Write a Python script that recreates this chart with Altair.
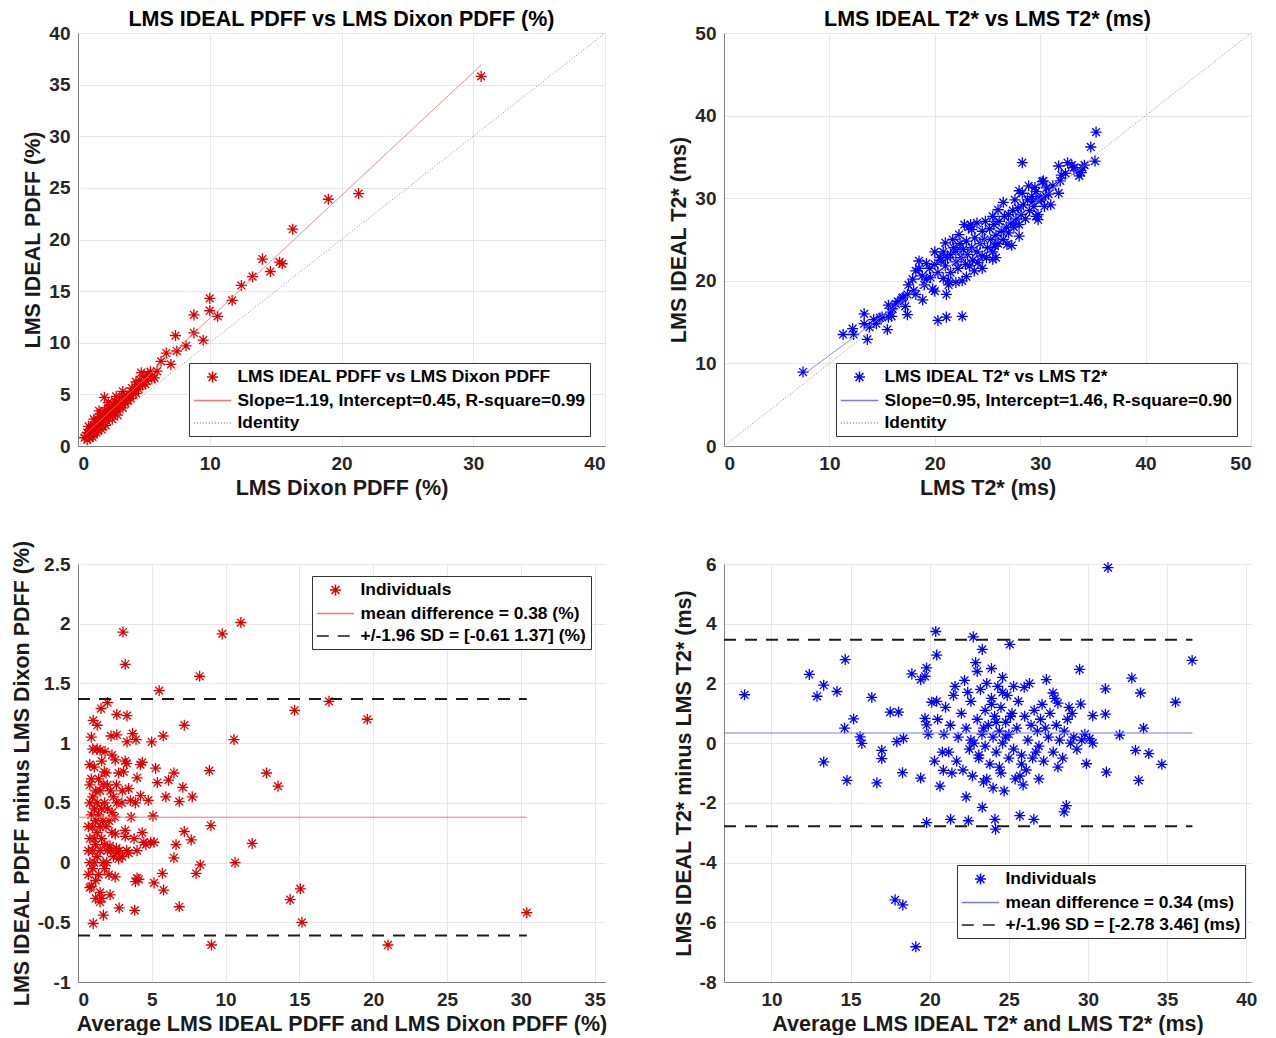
import altair as alt
import pandas as pd

FONT = "Liberation Sans"

# ---------------- top-left: LMS IDEAL PDFF vs LMS Dixon PDFF ----------------
tl_x = [30.6, 21.3, 19.0, 16.3, 14.0, 15.3, 15.5, 14.6, 13.25, 12.4, 11.7, 10.0, 10.0, 10.6,
        8.8, 8.8, 7.4, 9.5, 8.2, 7.5, 6.7, 7.05, 6.3, 6.0, 5.8, 4.8, 5.2, 4.5, 4.05, 3.8,
        3.3, 2.8, 2.0, 2.3, 3.0, 3.5, 2.5, 1.8, 1.5, 1.15, 0.9, 0.5,
        0.6, 0.7, 0.8, 0.9, 1.0, 1.0, 1.1, 1.2, 1.2, 1.3, 1.3, 1.4, 1.5, 1.5, 1.6, 1.6,
        1.7, 1.7, 1.8, 1.9, 1.9, 2.0, 2.0, 2.1, 2.2, 2.2, 2.3, 2.4, 2.4, 2.5, 2.6, 2.7,
        2.7, 2.8, 2.9, 3.0, 3.1, 3.2, 3.3, 3.4, 3.5, 3.6, 3.7, 3.8, 3.9, 4.0, 4.1, 4.2,
        4.3, 4.4, 4.6, 4.7, 4.9, 5.0, 5.3, 5.5, 5.6, 0.7, 0.9, 1.1, 1.4, 1.8, 2.1, 2.6,
        3.0, 2.3, 1.2, 0.8, 1.6, 2.9, 3.4, 4.4, 5.1]
tl_y = [35.8, 24.45, 23.9, 21.0, 18.1, 17.8, 17.65, 16.9, 16.4, 15.55, 14.1, 14.3, 13.1, 12.55,
        12.7, 10.95, 10.7, 10.25, 9.7, 9.2, 9.0, 7.9, 8.2, 7.25, 6.6, 7.1, 6.3, 5.95, 5.3, 4.8,
        4.7, 4.35, 4.7, 3.7, 3.9, 4.35, 3.05, 2.75, 2.1, 1.8, 1.1, 0.8,
        1.0, 1.3, 0.9, 1.5, 1.2, 1.7, 1.4, 2.0, 1.1, 1.6, 2.3, 1.9, 1.5, 2.6, 2.2, 1.8,
        2.5, 3.1, 2.0, 2.4, 2.9, 2.2, 3.4, 2.7, 3.0, 2.4, 3.3, 2.8, 3.9, 3.5, 3.0, 3.6,
        4.0, 3.3, 3.8, 3.4, 4.2, 3.8, 4.1, 3.7, 4.6, 4.1, 4.8, 4.4, 5.0, 4.6, 5.6, 5.0,
        5.4, 6.2, 5.5, 6.4, 5.9, 6.8, 6.9, 7.2, 6.5, 0.6, 0.8, 0.9, 1.3, 1.6, 2.0, 2.6,
        3.0, 4.2, 2.6, 1.9, 3.4, 4.8, 5.3, 5.1, 6.0]
tl_fit_x = [0.5, 30.6]
tl_fit_y = [1.05, 36.9]
tl_id = [0, 40]
tl_labels = ["LMS IDEAL PDFF vs LMS Dixon PDFF",
             "Slope=1.19, Intercept=0.45, R-square=0.99", "Identity"]

# ---------------- top-right: LMS IDEAL T2* vs LMS T2* ----------------
tr_x = [7.5, 11.3, 12.2, 12.3, 13.3, 13.6, 13.3, 14.45, 14.8, 15.5, 15.6, 15.6, 15.9, 16.9,
        17.2, 17.4, 17.4, 18.2, 18.85, 17.9, 18.5, 18.2, 19.2, 19.6, 20.0, 20.3, 21.1, 22.6,
        21.1, 21.3, 22.6, 23.75, 21.0, 20.5, 23.4, 25.5, 25.7, 26.85, 28.0, 28.3, 28.3, 29.8,
        29.6, 30.3, 31.75, 31.9, 31.75, 32.6, 33.2, 33.7, 33.9, 34.0, 35.2, 34.8, 35.3, 29.3,
        30.1, 30.6,
        19.5, 20.0, 20.3, 20.6, 20.8, 21.0, 21.2, 21.5, 21.5, 21.8, 22.0, 22.0, 22.2, 22.4,
        22.5, 22.7, 22.9, 23.0, 23.1, 23.3, 23.5, 23.6, 23.8, 24.0, 24.1, 24.3, 24.5, 24.5,
        24.7, 24.9, 25.0, 25.2, 25.3, 25.5, 25.6, 25.8, 26.0, 26.1, 26.3, 26.5, 26.6, 26.8,
        27.0, 27.0, 27.2, 27.4, 27.5, 27.7, 27.9, 28.0, 28.2, 28.4, 28.6, 28.8, 29.0, 29.2,
        29.4, 29.6, 30.0, 30.4, 22.8, 23.2, 24.0, 24.8, 25.5, 26.0, 21.3, 22.0, 23.0, 24.5,
        25.8, 27.3, 19.0, 19.8, 20.8, 18.8, 18.5, 19.2, 17.5, 18.0, 16.0, 16.5, 17.0, 15.0,
        14.2, 15.8, 13.8, 16.3, 20.0, 21.7, 22.3, 23.5, 26.5, 27.6, 28.0, 28.9, 29.5, 30.2,
        30.8, 31.2, 32.0, 33.0, 32.4, 33.5, 34.2, 29.8, 30.5, 31.0]
tr_y = [8.95, 13.5, 14.2, 13.5, 16.0, 12.9, 14.8, 14.8, 15.5, 14.1, 17.05, 15.6, 15.7, 17.9,
        16.9, 15.9, 18.35, 18.35, 17.7, 20.2, 22.4, 21.2, 20.2, 20.4, 18.75, 15.2, 15.6, 15.7,
        18.35, 20.0, 20.0, 21.2, 24.6, 22.8, 26.8, 22.6, 24.2, 24.4, 25.4, 34.3, 30.6, 27.4,
        27.8, 32.1, 30.6, 32.1, 33.9, 34.3, 33.7, 32.7, 33.1, 33.7, 34.5, 36.2, 38.0, 29.6,
        29.8, 31.25,
        21.5, 22.0, 21.0, 22.5, 23.5, 21.8, 22.8, 23.2, 21.0, 24.0, 22.3, 23.6, 21.5, 24.5,
        22.8, 23.8, 22.0, 24.8, 23.2, 21.8, 24.0, 22.5, 25.2, 23.5, 22.2, 24.5, 26.0, 23.0,
        25.0, 22.8, 24.0, 26.3, 25.0, 23.5, 26.8, 25.5, 24.5, 27.2, 26.0, 25.0, 27.8, 26.5,
        28.0, 25.8, 27.0, 28.5, 26.5, 27.5, 28.8, 26.8, 28.0, 29.2, 27.5, 29.8, 28.5, 30.2,
        29.0, 30.8, 30.0, 29.0, 26.8, 26.5, 27.0, 27.2, 27.8, 28.6, 19.5, 19.8, 20.5, 21.5,
        22.8, 24.3, 19.5, 19.0, 20.3, 20.6, 21.5, 22.1, 19.5, 18.8, 16.6, 17.5, 18.0, 15.6,
        15.3, 16.2, 14.4, 17.2, 23.5, 25.0, 25.6, 26.2, 29.5, 29.8, 30.9, 31.5, 31.3, 32.0,
        30.5, 31.5, 32.8, 34.0, 33.0, 33.3, 34.0, 28.0, 30.3, 29.2]
tr_fit_x = [7.5, 35.3]
tr_fit_y = [8.6, 35.0]
tr_id = [0, 50]
tr_labels = ["LMS IDEAL T2* vs LMS T2*",
             "Slope=0.95, Intercept=1.46, R-square=0.90", "Identity"]

# ---------------- bottom-left: Bland-Altman PDFF ----------------
bl_x = [3.05, 3.2, 9.77, 11.03, 8.24, 5.5, 17.0, 14.67, 19.6, 7.2, 10.57, 5.77, 8.9, 12.77,
        13.55, 9.0, 11.8, 10.64, 14.37, 15.06, 15.17, 9.04, 21.0, 30.4, 6.86, 8.28, 8.0, 6.5,
        6.64, 7.67, 7.2, 7.74, 7.1, 6.5, 6.86, 6.13, 5.95, 5.26, 5.38, 5.08, 4.92, 5.15, 4.46,
        4.35, 4.76, 3.89, 4.0, 4.23, 3.43, 3.2, 2.75, 3.3, 5.72, 5.8, 5.15, 4.0, 3.89, 4.12,
        3.84, 2.79, 2.52, 2.17, 1.72, 1.03, 1.49, 0.8, 1.03, 1.56, 2.0, 2.63, 3.32, 2.24, 2.63,
        3.7, 3.93, 4.99, 3.32, 1.49, 1.83, 0.8, 2.52, 1.78, 3.09, 4.35, 2.63, 2.3, 2.97, 3.55,
        4.23, 2.52, 3.2, 2.17, 2.63, 3.43, 2.75, 1.95, 3.2,
        0.7, 0.7, 0.7, 0.8, 0.8, 0.8, 0.9, 0.9, 0.9, 1.0, 1.0, 1.0, 1.0, 1.1, 1.1, 1.1, 1.1,
        1.2, 1.2, 1.2, 1.2, 1.3, 1.3, 1.3, 1.3, 1.4, 1.4, 1.4, 1.5, 1.5, 1.5, 1.5, 1.6, 1.6,
        1.6, 1.7, 1.7, 1.7, 1.8, 1.8, 1.8, 1.9, 1.9, 2.0, 2.0, 2.1, 2.1, 2.2, 2.2, 2.3, 2.4,
        2.5, 2.6, 2.8, 3.0, 3.3, 3.6, 4.0, 1.0, 0.9, 1.2, 1.6, 0.8, 2.3, 2.6, 2.0, 3.8, 4.6,
        3.0, 2.4, 1.3]
bl_y = [1.93, 1.66, 1.915, 2.01, 1.56, 1.44, 1.35, 1.275, 1.2, 1.15, 1.03, 1.06, 0.77, 0.75,
        0.64, 0.31, 0.16, 0.0, -0.31, -0.22, -0.5, -0.69, -0.69, -0.42, -0.37, -0.02, -0.09,
        0.04, 0.15, 0.19, 0.26, 0.55, 0.63, 0.75, 0.51, 0.69, 0.55, 0.79, 0.67, 0.39, 0.17,
        0.17, 0.17, 0.25, 0.52, 0.5, 0.71, 0.82, 0.62, 0.85, 0.75, 0.83, -0.09, -0.23, -0.17,
        -0.13, -0.16, -0.14, -0.4, -0.38, -0.12, -0.27, -0.44, -0.51, -0.33, -0.21, 1.19, 1.29,
        1.34, 1.24, 1.23, 1.06, 1.07, 1.08, 1.03, 1.01, 1.01, 0.94, 0.93, 0.82, 0.86, 0.76,
        0.76, 0.84, 0.5, 0.42, 0.5, 0.52, 0.56, 0.24, 0.27, 0.14, 0.08, 0.08, 0.03, 0.0, 0.22,
        0.1, 0.3, -0.1, 0.5, 0.0, 0.2, 0.4, -0.2, 0.7, 0.1, 0.3, 0.55, -0.05, 0.2, 0.45, 0.0,
        0.8, 0.6, 0.15, -0.15, 0.35, 0.05, 0.5, 0.25, 0.95, 0.7, -0.1, 0.4, 0.1, 0.3, 0.6,
        -0.25, 0.2, 0.45, 0.85, 0.0, 0.35, 0.65, 0.15, 0.5, -0.05, 0.3, 0.75, 0.1, 0.45, 0.35,
        -0.1, 0.6, 0.1, 0.25, 0.05, 0.38, 0.12, 0.1, 0.05, 0.1, 0.38, 0.1, 0.95, 1.05, -0.3,
        -0.3, 0.65, 0.9, 0.65, 0.65, 0.2, 0.15, 0.6, 0.55, 1.15]
bl_mean = 0.38
bl_lo, bl_hi = -0.61, 1.37
bl_line_x = [0, 30.4]
bl_labels = ["Individuals", "mean difference = 0.38 (%)", "+/-1.96 SD = [-0.61 1.37] (%)"]

# ---------------- bottom-right: Bland-Altman T2* ----------------
br_x = [8.3, 31.26, 20.38, 22.75, 23.32, 25.06, 14.66, 36.58, 12.39, 13.3, 12.88, 14.14, 16.34,
        18.87, 19.43, 19.7, 19.8, 20.44, 17.5, 18.03, 20.13, 20.44, 19.7, 19.8, 15.19, 14.62,
        15.6, 15.71, 17.92, 18.34, 16.97, 16.97, 13.3, 14.77, 16.66, 18.28, 19.43, 20.65,
        20.86, 19.8, 21.32, 22.44, 23.32, 24.12, 24.16, 25.69, 26.58, 28.49, 28.63, 31.16,
        33.2, 34.66, 33.84, 33.0, 29.9, 32.0, 33.51, 35.53, 33.32, 32.77, 31.1, 31.1, 30.3,
        29.54, 29.47, 27.37, 25.97, 27.79, 28.1, 17.81, 18.3, 19.12,
        20.5, 20.9, 21.0, 21.2, 21.3, 21.5, 21.7, 21.8, 22.0, 22.1, 22.2, 22.3, 22.5, 22.6,
        22.7, 22.8, 23.0, 23.0, 23.1, 23.2, 23.3, 23.4, 23.5, 23.5, 23.6, 23.7, 23.8, 23.9,
        24.0, 24.0, 24.1, 24.2, 24.3, 24.4, 24.5, 24.5, 24.6, 24.7, 24.8, 24.9, 25.0, 25.0,
        25.2, 25.3, 25.4, 25.5, 25.6, 25.8, 26.0, 26.1, 26.2, 26.4, 26.5, 26.6, 26.8, 26.9,
        27.0, 27.2, 27.3, 27.5, 27.6, 27.8, 28.0, 28.2, 28.4, 28.5, 28.7, 28.9, 29.1, 29.3,
        29.6, 29.8, 30.1, 30.3, 29.0, 27.9, 26.3, 25.7, 22.9, 22.4, 23.9, 24.6, 25.3, 21.6,
        20.8, 19.9, 20.3, 21.4, 26.7, 28.1, 27.1, 28.8, 26.9, 25.9, 22.3, 23.6,
        23.4, 24.2, 24.8, 23.9, 24.4, 25.1, 22.6, 23.1, 25.8, 24.6]
br_y = [1.62, 5.88, 3.74, 3.56, 3.14, 3.31, 2.8, 2.77, 2.3, 1.94, 1.57, 1.73, 1.53, 2.32, 2.13,
        2.24, 2.52, 2.95, 1.04, 1.04, 1.37, 1.4, 0.83, 0.61, 0.81, 0.5, 0.21, -0.01, 0.05, 0.16,
        -0.24, -0.52, -0.63, -1.25, -1.33, -0.99, -1.17, -1.44, -0.91, -2.66, -2.55, -2.6,
        -2.15, -2.55, -2.88, -2.43, -2.55, -2.3, -2.09, -0.97, -1.25, -0.71, -0.35, -0.24,
        -0.69, 0.27, 0.5, 1.37, 1.68, 2.18, 1.82, 0.97, 0.92, 1.31, 2.47, 2.13, 1.87, 1.68,
        1.34, -5.25, -5.42, -6.82,
        0.8, 0.3, 1.2, -0.3, 0.6, 1.6, -0.6, 0.2, 1.0, -0.9, 2.1, 0.5, -0.2, 1.4, -1.1, 0.0,
        0.8, 2.4, -0.5, 1.8, 0.3, -1.3, 1.1, -0.1, 2.0, 0.6, -0.7, 1.5, 0.2, -1.5, 0.9, -0.3,
        1.9, 0.4, -1.0, 1.2, 0.0, -1.6, 0.7, 1.6, -0.5, 0.3, 1.0, -0.2, -1.2, 0.5, 1.4, -0.4,
        0.9, -0.9, 0.1, 0.6, -0.5, 1.1, 0.4, -0.1, 0.8, -0.6, 0.5, 0.2, 1.0, -0.3, 0.6, 0.1,
        -0.5, 0.4, 0.8, 0.0, 0.2, -0.2, 0.1, 0.3, 0.15, 0.0, 1.0, 1.5, 2.0, -1.1, 2.7, 1.7,
        2.5, 2.2, 1.9, 1.9, -0.3, 0.3, -0.6, -1.0, -0.3, -0.8, 1.3, 1.2, -1.2, -1.4, -1.8, -1.2,
        0.5, 0.7, 0.2, 1.3, -0.8, 0.9, 0.1, -0.4, -0.7, 1.7]
br_mean = 0.34
br_lo, br_hi = -2.78, 3.46
br_line_x = [7, 36.6]
br_labels = ["Individuals", "mean difference = 0.34 (ms)", "+/-1.96 SD = [-2.78 3.46] (ms)"]

RED = "#e00000"
RED_LT = "#f07878"
BLUE = "#0000ff"
BLUE_LT = "#7878ff"
GRAY = "#8c8c8c"
BLACK = "#1a1a1a"

AST = "M0,-0.65L0,0.65M-0.65,0L0.65,0M-0.46,-0.46L0.46,0.46M-0.46,0.46L0.46,-0.46"
LINE = "M-2.2,0L2.2,0"
LBL = "replace(datum.label, '\u2212', '-')"


def panel(px, py, labels, colors, dashes, l1, l2, l2w, xdom, ydom, xt, yt,
          xtitle, ytitle, title, lx, ly, w, h):
    pts = pd.DataFrame({"x": px, "y": py, "s": labels[0]})
    leg = alt.Legend(orient="none", legendX=lx, legendY=ly, title=None)
    color = alt.Color("s:N", scale=alt.Scale(domain=labels, range=colors), legend=leg, title=None)
    shape = alt.Shape("s:N", scale=alt.Scale(domain=labels, range=[AST, LINE, LINE]),
                      legend=leg, title=None)
    dash = alt.StrokeDash("s:N", scale=alt.Scale(domain=labels, range=dashes),
                          legend=leg, title=None)
    X = alt.X("x:Q", scale=alt.Scale(domain=xdom, nice=False, zero=False),
              axis=alt.Axis(values=xt, title=xtitle, format=".6~g", labelExpr=LBL))
    Y = alt.Y("y:Q", scale=alt.Scale(domain=ydom, nice=False, zero=False),
              axis=alt.Axis(values=yt, title=ytitle, format=".6~g", labelExpr=LBL))
    points = alt.Chart(pts).mark_point(filled=False, size=289, strokeWidth=1.3, opacity=1).encode(
        x=X, y=Y, color=color, shape=shape)
    line1 = alt.Chart(l1).mark_line(strokeWidth=1, clip=True).encode(
        x=X, y=Y, color=color, strokeDash=dash, detail="g:N")
    line2 = alt.Chart(l2).mark_line(strokeWidth=l2w, clip=True).encode(
        x=X, y=Y, color=color, strokeDash=dash, detail="g:N")
    props = dict(width=w, height=h)
    if title:
        props["title"] = alt.TitleParams(title, font=FONT, fontSize=21.5, fontWeight="bold",
                                         color="#000000", frame="group", anchor="middle",
                                         offset=-6)
    return alt.layer(points, line1, line2).properties(**props)


W = 527
tl_l1 = pd.DataFrame({"x": tl_fit_x, "y": tl_fit_y, "s": tl_labels[1], "g": "a"})
tl_l2 = pd.DataFrame({"x": tl_id, "y": tl_id, "s": tl_labels[2], "g": "b"})
tl = panel(tl_x, tl_y, tl_labels, [RED, RED_LT, GRAY], [[1, 0], [1, 0], [1, 2]],
           tl_l1, tl_l2, 1, [0, 40], [0, 40], [0, 10, 20, 30, 40], list(range(0, 41, 5)),
           "LMS Dixon PDFF (%)", "LMS IDEAL PDFF (%)", "LMS IDEAL PDFF vs LMS Dixon PDFF (%)",
           111, 330, W, 413)

tr_l1 = pd.DataFrame({"x": tr_fit_x, "y": tr_fit_y, "s": tr_labels[1], "g": "a"})
tr_l2 = pd.DataFrame({"x": tr_id, "y": tr_id, "s": tr_labels[2], "g": "b"})
tr = panel(tr_x, tr_y, tr_labels, [BLUE, BLUE_LT, GRAY], [[1, 0], [1, 0], [1, 2]],
           tr_l1, tr_l2, 1, [0, 50], [0, 50], list(range(0, 51, 10)), list(range(0, 51, 10)),
           "LMS T2* (ms)", "LMS IDEAL T2* (ms)", "LMS IDEAL T2* vs LMS T2* (ms)",
           112, 330, W, 413)

bl_l1 = pd.DataFrame({"x": bl_line_x, "y": [bl_mean, bl_mean], "s": bl_labels[1], "g": "m"})
bl_l2 = pd.DataFrame({"x": bl_line_x + bl_line_x, "y": [bl_lo, bl_lo, bl_hi, bl_hi],
                      "s": bl_labels[2], "g": ["lo", "lo", "hi", "hi"]})
bl = panel(bl_x, bl_y, bl_labels, [RED, RED_LT, BLACK], [[1, 0], [1, 0], [12, 9]],
           bl_l1, bl_l2, 2, [0, 35.7], [-1, 2.5], list(range(0, 36, 5)),
           [-1, -0.5, 0, 0.5, 1, 1.5, 2, 2.5],
           "Average LMS IDEAL PDFF and LMS Dixon PDFF (%)",
           "LMS IDEAL PDFF minus LMS Dixon PDFF (%)", None, 234, 12, W, 418)

br_l1 = pd.DataFrame({"x": br_line_x, "y": [br_mean, br_mean], "s": br_labels[1], "g": "m"})
br_l2 = pd.DataFrame({"x": br_line_x + br_line_x, "y": [br_lo, br_lo, br_hi, br_hi],
                      "s": br_labels[2], "g": ["lo", "lo", "hi", "hi"]})
br = panel(br_x, br_y, br_labels, [BLUE, BLUE_LT, BLACK], [[1, 0], [1, 0], [12, 9]],
           br_l1, br_l2, 2, [7, 40.3], [-8, 6], list(range(10, 41, 5)), list(range(-8, 7, 2)),
           "Average LMS IDEAL T2* and LMS T2* (ms)", "LMS IDEAL T2* minus LMS T2* (ms)", None,
           233, 301, W, 418)

chart = alt.concat(tl, tr, bl, br, columns=2, spacing={"row": 41, "column": 61}).resolve_scale(
    color="independent", shape="independent", strokeDash="independent"
).resolve_legend(
    color="independent", shape="independent", strokeDash="independent"
).configure(
    font=FONT, background="white", padding={"left": 3, "top": 0, "right": 5, "bottom": 0}
).configure_view(stroke=None).configure_axis(
    labelFont=FONT, labelFontSize=19, labelFontWeight="bold", labelColor="#262626",
    titleFont=FONT, titleFontSize=21.5, titleFontWeight="bold", titleColor="#1a1a1a",
    gridColor="#e6e6e6", gridWidth=1, domainColor="#808080", domainWidth=1,
    ticks=False, labelPadding=8, titlePadding=4,
).configure_legend(
    padding=4.5, rowPadding=4.5, symbolSize=289, symbolOffset=9.5, labelOffset=15.5,
    labelFont=FONT, labelFontSize=17.4, labelFontWeight="bold", labelColor="#000000",
    labelLimit=1000, strokeColor="#333333", fillColor="white", symbolStrokeWidth=1.5,
    cornerRadius=0,
)

chart.save("out.html", embed_options={"renderer": "svg", "actions": False})
